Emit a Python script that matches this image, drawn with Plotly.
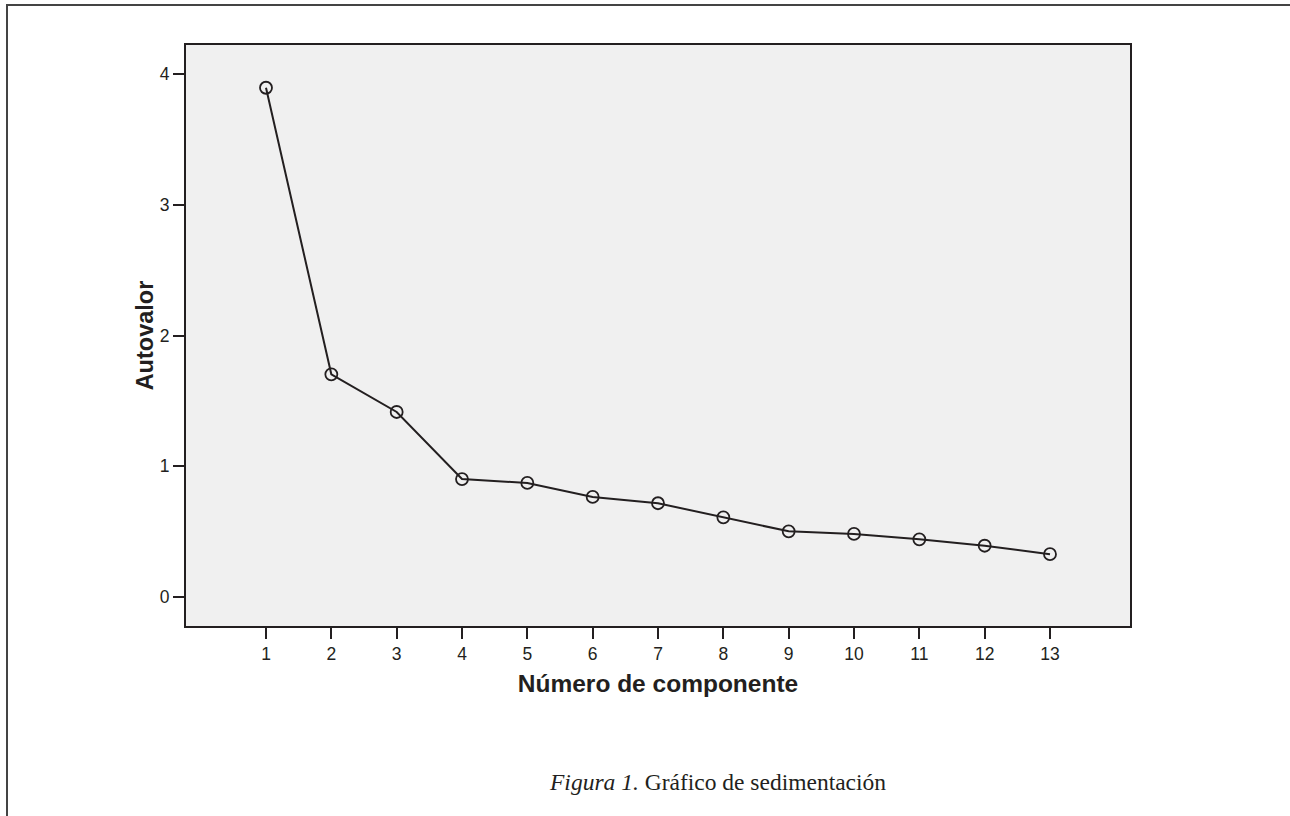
import plotly.graph_objects as go

components = list(range(1, 14))
eigenvalues = [3.895, 1.703, 1.415, 0.902, 0.872, 0.765, 0.717, 0.609, 0.502, 0.482, 0.441, 0.392, 0.327]
x_ticks = list(range(1, 14))
y_ticks = [0, 1, 2, 3, 4]

ink = "#231f20"
W, H = 1290, 816
L, R, T, B = 186, 160, 45, 190
pw, ph = W - L - R, H - T - B

def px(x):
    return (x - L) / pw

def py(y):
    return (H - B - y) / ph

fig = go.Figure()
fig.add_trace(go.Scatter(
    x=components, y=eigenvalues, mode="lines+markers",
    line=dict(color=ink, width=2),
    marker=dict(symbol="circle-open", size=12, color=ink, line=dict(width=1.8, color=ink)),
    showlegend=False, hoverinfo="x+y",
))

axis_common = dict(
    showgrid=False, zeroline=False, showline=True, linecolor=ink, linewidth=2,
    mirror=True, ticks="outside", ticklen=11, tickwidth=2, tickcolor=ink,
    tickfont=dict(family="Arial, Liberation Sans, sans-serif", size=17.5, color=ink),
)

fig.update_xaxes(
    range=[-0.2245, 14.2245], tickvals=x_ticks, ticktext=[str(v) for v in x_ticks],
    title=dict(text="<b>Número de componente</b>", standoff=12,
               font=dict(family="Arial, Liberation Sans, sans-serif", size=24.5, color=ink)),
    **axis_common,
)
fig.update_yaxes(
    range=[-0.222, 4.222], tickvals=y_ticks, ticktext=[str(v) for v in y_ticks],
    title=dict(text="<b>Autovalor</b>", standoff=0,
               font=dict(family="Arial, Liberation Sans, sans-serif", size=23.5, color=ink)),
    **axis_common,
)

fig.add_annotation(
    text="<i>Figura 1.</i> Gráfico de sedimentación",
    xref="paper", yref="paper", x=px(717), y=py(782), xanchor="center", yanchor="middle",
    showarrow=False, font=dict(family="Liberation Serif, Times New Roman, serif", size=23.5, color=ink),
)

fig.add_shape(
    type="rect", xref="paper", yref="paper",
    x0=px(7), x1=px(1330), y0=py(860), y1=py(5),
    line=dict(color="#444444", width=2), fillcolor="rgba(0,0,0,0)", layer="below",
)

fig.update_layout(
    width=W, height=H, margin=dict(l=L, r=R, t=T, b=B, autoexpand=False),
    paper_bgcolor="white", plot_bgcolor="#f0f0f0",
    font=dict(family="Arial, Liberation Sans, sans-serif", color=ink),
)

fig.write_html(
    "out.html",
    config={"displayModeBar": False},
    post_script="document.body.style.margin='0';document.body.style.overflow='hidden';",
)
